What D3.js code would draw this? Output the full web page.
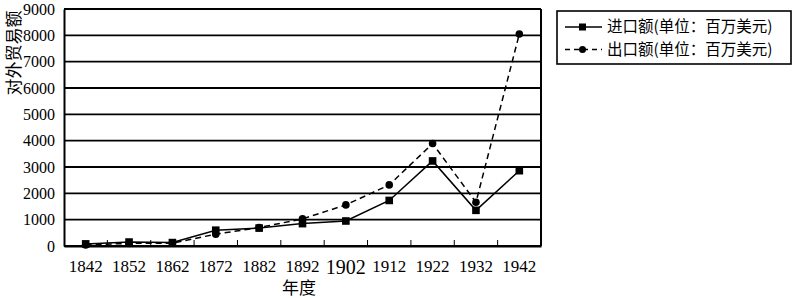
<!DOCTYPE html>
<html>
<head>
<meta charset="utf-8">
<script src="https://cdn.jsdelivr.net/npm/d3@7"></script>
<style>
  body { margin: 0; background: #fff; }
  .tick text { font-family: "Liberation Serif", "DejaVu Serif", serif; }
  .cjk { font-family: "Noto Sans CJK SC", sans-serif; }
</style>
</head>
<body>
<script>
// data
var years = ["1842", "1852", "1862", "1872", "1882", "1892", "1902", "1912", "1922", "1932", "1942"];
var imports = [80, 150, 130, 600, 680, 850, 950, 1730, 3230, 1355, 2860];
var exports = [40, 100, 110, 450, 700, 1030, 1560, 2320, 3890, 1660, 8050];
var yTicks = [0, 1000, 2000, 3000, 4000, 5000, 6000, 7000, 8000, 9000];
var seriesNames = ["进口额(单位：百万美元)", "出口额(单位：百万美元)"];

var W = 800, H = 298;
var margin = {top: 9, right: 259, bottom: 52, left: 64},
    width = W - margin.left - margin.right,
    height = H - margin.top - margin.bottom;

var svg = d3.select("body").append("svg")
    .attr("width", W)
    .attr("height", H);

var g = svg.append("g")
    .attr("transform", "translate(" + margin.left + "," + margin.top + ")");

var x = d3.scaleBand()
    .domain(years)
    .range([0, width]);

var y = d3.scaleLinear()
    .domain([0, 9000])
    .range([height, 0]);

// gridlines
g.append("g")
  .selectAll("line")
  .data(yTicks)
  .enter().append("line")
    .attr("x1", 0)
    .attr("x2", width)
    .attr("y1", function(d) { return y(d); })
    .attr("y2", function(d) { return y(d); })
    .attr("stroke", "#000")
    .attr("stroke-width", 1.8);

// right border
g.append("line")
    .attr("x1", width).attr("x2", width)
    .attr("y1", 0).attr("y2", height)
    .attr("stroke", "#000").attr("stroke-width", 2);

// x tick marks between categories
g.append("g")
  .selectAll("line")
  .data(years.slice(1))
  .enter().append("line")
    .attr("x1", function(d) { return x(d); })
    .attr("x2", function(d) { return x(d); })
    .attr("y1", height)
    .attr("y2", height - 6)
    .attr("stroke", "#000")
    .attr("stroke-width", 1);

// x axis labels
var xAxis = g.append("g")
    .attr("transform", "translate(0," + height + ")")
    .call(d3.axisBottom(x).tickSize(0).tickPadding(14));
xAxis.select(".domain").attr("stroke-width", 2);
xAxis.selectAll(".tick text")
    .attr("font-size", function(d) { return d == "1902" ? 20 : 17; })
    .attr("fill", "#000");

// y axis
var yAxis = g.append("g")
    .call(d3.axisLeft(y).tickValues(yTicks).tickSize(0).tickPadding(9).tickFormat(d3.format("d")));
yAxis.select(".domain").attr("stroke-width", 2);
yAxis.selectAll(".tick text")
    .attr("font-size", 16)
    .attr("fill", "#000");

// lines
var line = function(vals) {
  return d3.line()
    .x(function(d, i) { return x(years[i]) + x.bandwidth() / 2; })
    .y(function(d) { return y(d); })(vals);
};

g.append("path")
    .attr("d", line(exports))
    .attr("fill", "none")
    .attr("stroke", "#000")
    .attr("stroke-width", 1.5)
    .attr("stroke-dasharray", "6,4");

g.append("path")
    .attr("d", line(imports))
    .attr("fill", "none")
    .attr("stroke", "#000")
    .attr("stroke-width", 1.5);

g.append("g")
  .selectAll("circle")
  .data(exports)
  .enter().append("circle")
    .attr("cx", function(d, i) { return x(years[i]) + x.bandwidth() / 2; })
    .attr("cy", function(d) { return y(d); })
    .attr("r", 3.8)
    .attr("fill", "#000");

g.append("g")
  .selectAll("rect")
  .data(imports)
  .enter().append("rect")
    .attr("x", function(d, i) { return x(years[i]) + x.bandwidth() / 2 - 3.8; })
    .attr("y", function(d) { return y(d) - 3.8; })
    .attr("width", 7.6)
    .attr("height", 7.6)
    .attr("fill", "#000");

// axis titles
svg.append("text")
    .attr("class", "cjk")
    .attr("transform", "translate(20,53) rotate(-90)")
    .attr("text-anchor", "middle")
    .attr("font-size", 17)
    .text("对外贸易额");

svg.append("text")
    .attr("class", "cjk")
    .attr("x", 299)
    .attr("y", 294)
    .attr("text-anchor", "middle")
    .attr("font-size", 17)
    .text("年度");

// legend
var lg = svg.append("g").attr("transform", "translate(557,11)");
lg.append("rect")
    .attr("width", 234)
    .attr("height", 53)
    .attr("fill", "#fff")
    .attr("stroke", "#000")
    .attr("stroke-width", 1.6);

var items = lg.selectAll("g.item")
    .data(seriesNames)
    .enter().append("g")
    .attr("class", "item")
    .attr("transform", function(d, i) { return "translate(0," + (16 + i * 22.5) + ")"; });

items.append("line")
    .attr("x1", 8).attr("x2", 45)
    .attr("stroke", "#000")
    .attr("stroke-width", 1.5)
    .attr("stroke-dasharray", function(d, i) { return i ? "5,4" : null; });

items.each(function(d, i) {
  var s = d3.select(this);
  if (i == 0) {
    s.append("rect").attr("x", 22).attr("y", -3.5).attr("width", 7).attr("height", 7).attr("fill", "#000");
  } else {
    s.append("circle").attr("cx", 25.5).attr("cy", 0).attr("r", 3.5).attr("fill", "#000");
  }
});

items.append("text")
    .attr("class", "cjk")
    .attr("x", 50)
    .attr("dy", "0.35em")
    .attr("font-size", 15.5)
    .text(function(d) { return d; });
</script>
</body>
</html>
